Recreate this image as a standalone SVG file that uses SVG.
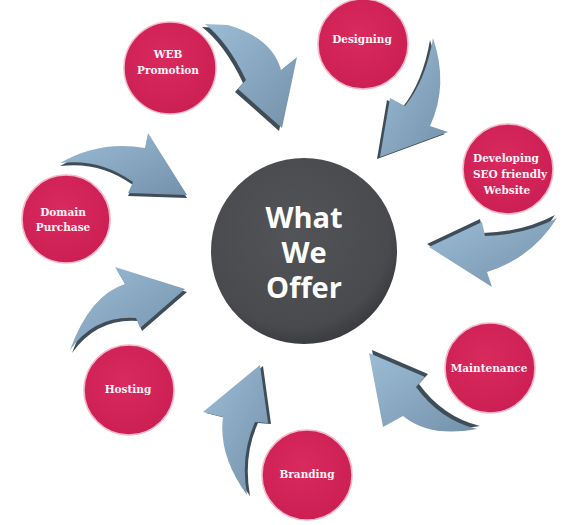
<svg xmlns="http://www.w3.org/2000/svg" width="562" height="525" viewBox="0 0 562 525">
<defs>
<linearGradient id="ag" x1="0" y1="0" x2="1" y2="1">
<stop offset="0" stop-color="#9cbcd5"/>
<stop offset="1" stop-color="#7491aa"/>
</linearGradient>
<radialGradient id="rg" cx="0.45" cy="0.4" r="0.6">
<stop offset="0" stop-color="#d92a5e"/>
<stop offset="1" stop-color="#cc1f53"/>
</radialGradient>
<radialGradient id="cg" cx="0.45" cy="0.4" r="0.6">
<stop offset="0" stop-color="#525457"/>
<stop offset="0.85" stop-color="#484a4d"/>
<stop offset="1" stop-color="#3b3d40"/>
</radialGradient>
</defs>
<style>
.red{fill:url(#rg);stroke:#f4b9c9;stroke-width:1.5}
.lbl{font-family:"DejaVu Serif",serif;font-weight:bold;font-size:10.5px;fill:#fff3f6;text-anchor:middle}
.ctr{font-family:"Open Sans","Liberation Sans",sans-serif;font-weight:bold;font-size:29px;fill:#ffffff;text-anchor:middle}
.ar{fill:url(#ag)}
.sh{fill:#3f4d58}
</style>
<rect width="562" height="525" fill="#ffffff"/>
<g id="connectors">
<g id="a1"><path class="sh" transform="translate(-3,3)" d="M205,24 L228,25 Q272,38 281,70 L297,57 L282,128 L238,89 L246,80 Q228,42 205,24 Z"/><path class="ar" d="M205,24 L228,25 Q272,38 281,70 L297,57 L282,128 L238,89 L246,80 Q228,42 205,24 Z"/></g>
<g id="a2"><path class="sh" transform="translate(-3,2)" d="M433,38 Q449,85 430,126 L448,132 L380,157 L390,98 L405,106 Q426,80 433,38 Z"/><path class="ar" d="M433,38 Q449,85 430,126 L448,132 L380,157 L390,98 L405,106 Q426,80 433,38 Z"/></g>
<g id="a3"><path class="sh" transform="translate(-2,-3)" d="M557,218 Q525,235 485,236 L482,222 L429,247 L492,287 L487,272 Q532,258 557,218 Z"/><path class="ar" d="M557,218 Q525,235 485,236 L482,222 L429,247 L492,287 L487,272 Q532,258 557,218 Z"/></g>
<g id="a4"><path class="sh" transform="translate(3,-3)" d="M369,353 L425,377 L416,387 Q440,420 477,429 Q430,438 403,416 L383,427 Z"/><path class="ar" d="M369,353 L425,377 L416,387 Q440,420 477,429 Q430,438 403,416 L383,427 Z"/></g>
<g id="a5"><path class="sh" transform="translate(3,1)" d="M260,365 L268,423 L255,422 Q240,455 247,495 Q218,455 223,417 L203,412 Z"/><path class="ar" d="M260,365 L268,423 L255,422 Q240,455 247,495 Q218,455 223,417 L203,412 Z"/></g>
<g id="a6"><path class="sh" transform="translate(2,3)" d="M70,350 Q90,295 125,284 L115,267 L185,289 L140,328 L136,318 Q95,315 70,350 Z"/><path class="ar" d="M70,350 Q90,295 125,284 L115,267 L185,289 L140,328 L136,318 Q95,315 70,350 Z"/></g>
<g id="a7"><path class="sh" transform="translate(0,3)" d="M60,163 Q100,140 145,148 L148,133 L187,195 L128,193 L133,182 Q100,158 60,163 Z"/><path class="ar" d="M60,163 Q100,140 145,148 L148,133 L187,195 L128,193 L133,182 Q100,158 60,163 Z"/></g>
</g>
<g id="center">
<circle cx="304" cy="251" r="93" fill="url(#cg)"/>
<text class="ctr" x="304" y="228">What</text>
<text class="ctr" x="304" y="263">We</text>
<text class="ctr" x="304" y="298">Offer</text>
</g>
<g id="web-promotion">
<circle class="red" cx="170" cy="68" r="46"/>
<text class="lbl" x="168" y="58">WEB</text>
<text class="lbl" x="168" y="74">Promotion</text>
</g>
<g id="designing">
<circle class="red" cx="363" cy="44" r="45"/>
<text class="lbl" x="362" y="43">Designing</text>
</g>
<g id="developing">
<circle class="red" cx="508" cy="169" r="45"/>
<text class="lbl" x="506" y="162">Developing</text>
<text class="lbl" x="510" y="178">SEO friendly</text>
<text class="lbl" x="507" y="194">Website</text>
</g>
<g id="domain-purchase">
<circle class="red" cx="66" cy="219" r="44"/>
<text class="lbl" x="63" y="216">Domain</text>
<text class="lbl" x="63" y="231">Purchase</text>
</g>
<g id="hosting">
<circle class="red" cx="129" cy="390" r="45"/>
<text class="lbl" x="128" y="393">Hosting</text>
</g>
<g id="branding">
<circle class="red" cx="307" cy="475" r="45"/>
<text class="lbl" x="307" y="478">Branding</text>
</g>
<g id="maintenance">
<circle class="red" cx="490" cy="368" r="45"/>
<text class="lbl" x="489" y="372">Maintenance</text>
</g>
</svg>
